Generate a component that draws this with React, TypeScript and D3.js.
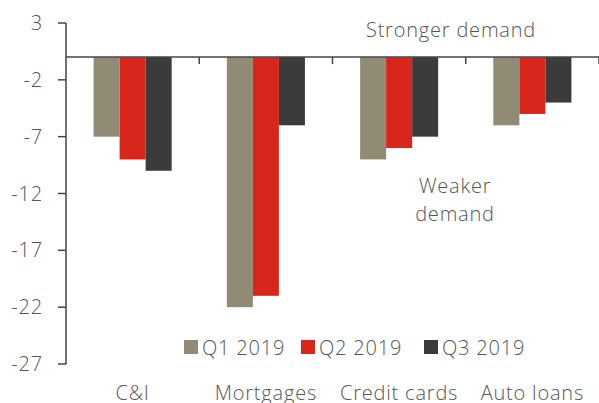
import * as d3 from "d3";

const categories = ["C&I", "Mortgages", "Credit cards", "Auto loans"];
const seriesNames = ["Q1 2019", "Q2 2019", "Q3 2019"];
const q1 = [-7, -22, -9, -6];
const q2 = [-9, -21, -8, -5];
const q3 = [-10, -6, -7, -4];
const yTicks = [3, -2, -7, -12, -17, -22, -27];
const colors = ["#918a74", "#d9261c", "#3b3b3b"];

const W = 599, H = 403;
const FONT = "Open Sans";
const FS = 20;
const LS = 0.8;
const TXT = "#555";
const AX = "#444";

export default function App() {
  const values = [q1, q2, q3];
  const margin = { left: 66, right: 0, top: 23, bottom: 39 };
  const y = d3.scaleLinear().domain([-27, 3]).range([H - margin.bottom, margin.top]);
  const x = d3.scaleBand().domain(categories).range([margin.left, W]).paddingInner(0);
  const inner = d3.scaleBand().domain(seriesNames).range([0, x.bandwidth()]).paddingOuter(1.06).paddingInner(0);

  const legendX = [184, 301, 424];

  return (
    <div style={{ position: "absolute", left: 0, top: 0 }}>
      <svg width={W} height={H} style={{ display: "block" }} fontFamily={FONT} fontWeight={300} letterSpacing={LS}>
        {/* bars */}
        {categories.map((c, ci) =>
          seriesNames.map((s, si) => {
            const v = values[si][ci];
            return (
              <rect key={c + s} x={(x(c) ?? 0) + (inner(s) ?? 0)} y={y(0)} width={inner.bandwidth()}
                height={y(v) - y(0)} fill={colors[si]} />
            );
          })
        )}
        {/* y axis */}
        <line x1={margin.left} x2={margin.left} y1={y(3)} y2={y(-27)} stroke={AX} strokeWidth={1.5} />
        {yTicks.map((t) => (
          <g key={t}>
            <line x1={margin.left - 8} x2={margin.left} y1={y(t)} y2={y(t)} stroke={AX} strokeWidth={1.5} />
            <text x={margin.left - 23} y={y(t) + 7} textAnchor="end" fontSize={FS} fill={TXT}>{t}</text>
          </g>
        ))}
        {/* zero line with category ticks */}
        <line x1={margin.left} x2={W} y1={y(0)} y2={y(0)} stroke={AX} strokeWidth={1.5} />
        {categories.map((c) => (
          <line key={c} x1={(x(c) ?? 0) + x.bandwidth()} x2={(x(c) ?? 0) + x.bandwidth()} y1={y(0)} y2={y(0) + 7} stroke={AX} strokeWidth={1.5} />
        ))}
        {/* category labels */}
        {categories.map((c) => (
          <text key={c} x={(x(c) ?? 0) + x.bandwidth() / 2} y={400} textAnchor="middle" fontSize={FS} fill={TXT}>{c}</text>
        ))}
        {/* annotations */}
        <text x={451} y={37} textAnchor="middle" fontSize={FS} fill={TXT}>Stronger demand</text>
        <text x={455} y={193} textAnchor="middle" fontSize={FS} fill={TXT}>Weaker</text>
        <text x={455} y={221} textAnchor="middle" fontSize={FS} fill={TXT}>demand</text>
        {/* legend */}
        {seriesNames.map((s, i) => (
          <g key={s}>
            <rect x={legendX[i]} y={340} width={14} height={14} fill={colors[i]} />
            <text x={legendX[i] + 18} y={355} fontSize={FS} fill={TXT}>{s}</text>
          </g>
        ))}
      </svg>
    </div>
  );
}
